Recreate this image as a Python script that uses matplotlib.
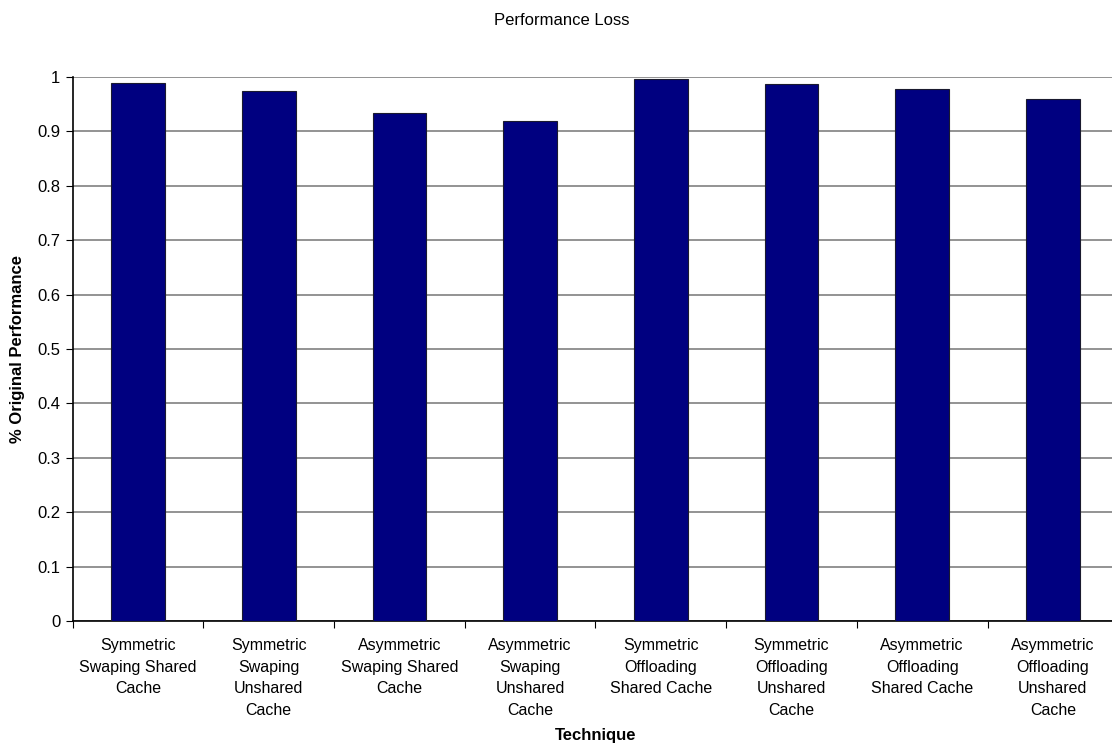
import matplotlib.pyplot as plt
import numpy as np

plt.rcParams['font.family'] = ['Liberation Sans', 'DejaVu Sans']

techniques = [
    "Symmetric\nSwaping Shared\nCache",
    "Symmetric\nSwaping\nUnshared\nCache",
    "Asymmetric\nSwaping Shared\nCache",
    "Asymmetric\nSwaping\nUnshared\nCache",
    "Symmetric\nOffloading\nShared Cache",
    "Symmetric\nOffloading\nUnshared\nCache",
    "Asymmetric\nOffloading\nShared Cache",
    "Asymmetric\nOffloading\nUnshared\nCache",
]
performance = [0.989, 0.974, 0.933, 0.920, 0.996, 0.987, 0.978, 0.960]
y_ticks = [0, 0.1, 0.2, 0.3, 0.4, 0.5, 0.6, 0.7, 0.8, 0.9, 1]

fig = plt.figure(figsize=(11.12, 7.47), dpi=100)
# axes runs a little past the right edge, like the cropped original
ax = fig.add_axes([72.7 / 1112, 126 / 747, 1045.5 / 1112, 544 / 747])

x = np.arange(len(techniques))
ax.bar(x, performance, width=0.41, color="#000080", edgecolor="#1a1a2e",
       linewidth=0.8, zorder=3)

ax.set_xlim(-0.5, len(techniques) - 0.5)
ax.set_ylim(0, 1)
ax.set_yticks(y_ticks)
ax.set_yticklabels([f"{v:g}" for v in y_ticks], fontsize=12)
ax.yaxis.grid(True, color="#808080", linewidth=1.2, zorder=0)

# tick marks between categories, labels centred under bars
ax.set_xticks(np.arange(len(techniques) + 1) - 0.5)
ax.set_xticklabels([])
ax.set_xticks(x, minor=True)
ax.set_xticklabels(techniques, minor=True, fontsize=11.5, linespacing=1.57,
                   va="top")
ax.tick_params(axis="x", which="minor", length=0, pad=12)
ax.tick_params(axis="x", which="major", length=5, direction="out")
ax.tick_params(axis="y", length=5, direction="out", pad=4)

for side in ["top", "right"]:
    ax.spines[side].set_visible(False)
for side in ["left", "bottom"]:
    ax.spines[side].set_color("black")
    ax.spines[side].set_linewidth(1.2)

fig.text(0.505, 0.973, "Performance Loss", ha="center", va="center",
         fontsize=12)
fig.text(0.016, 0.533, "% Original Performance", rotation=90, ha="center",
         va="center", fontsize=12, fontweight="bold")
fig.text(0.536, 0.016, "Technique", ha="center", va="center",
         fontsize=12, fontweight="bold")

plt.savefig("out.png", dpi=100)
